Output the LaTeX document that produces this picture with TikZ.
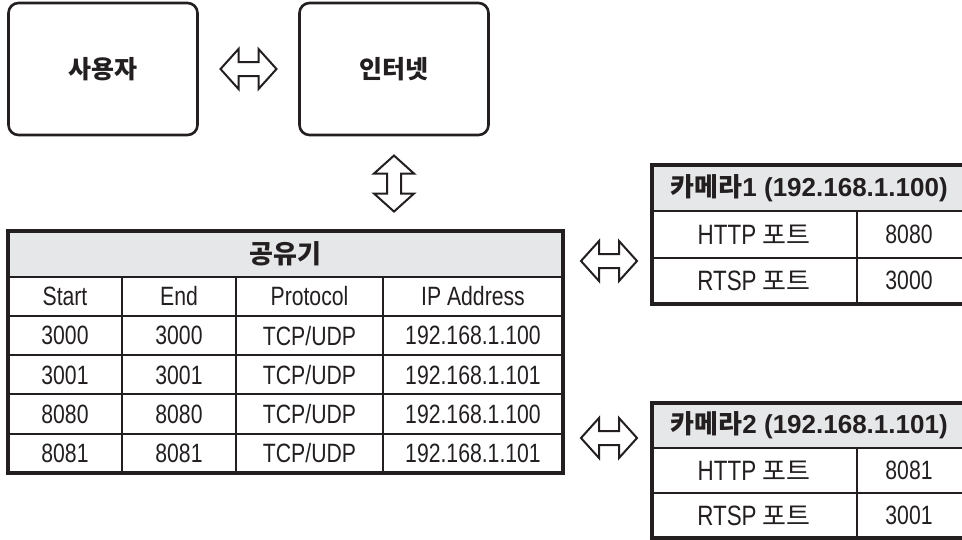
\documentclass[tikz,border=0pt]{standalone}
\usepackage{fontspec}
\usetikzlibrary{calc}
\setmainfont{Liberation Sans}
\newfontfamily\kr{Noto Sans CJK KR}
\newfontfamily\cond[FakeStretch=0.8]{Liberation Sans}
\definecolor{ink}{HTML}{231F20}
\definecolor{hdrgray}{HTML}{E6E7E8}
% hollow double arrow: centre, rotation
\newcommand{\hollowarrow}[2]{\draw[arrowline,shift={#1},rotate=#2] (-28,0)--(-10,-20)--(-10,-7)--(10,-7)--(10,-20)--(28,0)--(10,20)--(10,7)--(-10,7)--(-10,20)--cycle;}

\begin{document}
\begin{tikzpicture}[x=1pt,y=-1pt,
 box/.style={draw=ink,line width=2.6pt,rounded corners=10pt,minimum width=189pt,minimum height=132pt,font=\fontsize{25}{30}\selectfont\kr\bfseries,text=ink},
 arrowline/.style={draw=ink,line width=2pt,fill=white,line join=miter},
 frame/.style={draw=ink,line width=3.5pt},
 rule/.style={draw=ink,line width=2pt},
 cell/.style={inner sep=0pt,text=ink,font=\fontsize{26.5}{30}\selectfont\cond},
 hd/.style={inner sep=0pt,text=ink,fill=hdrgray,font=\fontsize{26}{30}\selectfont\bfseries}]
 \useasboundingbox (0,0) rectangle (962,539);
 % top row
 \node[box] (user) at (103,69) {사용자};
 \node[box] (net) at (394,69) {인터넷};
 \coordinate (un) at ($(user.east)!.5!(net.west)$);
 \hollowarrow{(un)}{0}
 % router table
 \node[hd,minimum width=555pt,minimum height=46pt] (router) at (285.5,254) {\kr 공유기};
 \coordinate (nr) at ($(net.south)!.5!(net.south|-router.north)$);
 \hollowarrow{(nr)}{90}
 \foreach \y in {277,316,355,394,434} \draw[rule] (8,\y) -- (563,\y);
 \foreach \x in {122,236,383} \draw[rule] (\x,277) -- (\x,473);
 \draw[frame] (8,231) rectangle (563,473);
 \node[cell] (start) at (65,296.5) {Start};
 \node[cell] (end) at (179,296.5) {End};
 \node[cell] (proto) at (309.5,296.5) {Protocol};
 \node[cell] (ipaddr) at (473,296.5) {IP Address};
 \foreach \p/\ip [count=\i] in {3000/100,3001/101,8080/100,8081/101} {
  \node[cell] (s\i) at (65,{296.5+\i*39.2}) {\p};
  \node[cell] (e\i) at (179,{296.5+\i*39.2}) {\p};
  \node[cell] (pr\i) at (309.5,{296.5+\i*39.2}) {TCP/UDP};
  \node[cell] (ip\i) at (473,{296.5+\i*39.2}) {192.168.1.\ip};
 }
 % camera tables
 \foreach \n/\t/\h/\ip/\http/\rtsp in {1/165/46.3/100/8080/3000,2/403/45/101/8081/3001} {
  \node[hd,minimum width=314pt,minimum height=\h pt,anchor=north west] (cam\n) at (652,\t) {{\kr 카메라}\n{} (192.168.1.\ip)};
  \draw[rule] (652,{\t+\h}) -- (966,{\t+\h});
  \draw[rule] (652,{\t+2*\h}) -- (966,{\t+2*\h});
  \draw[rule] (857,{\t+\h}) -- (857,{\t+3*\h});
  \draw[frame] (652,\t) rectangle (966,{\t+3*\h});
  \node[cell,font=\fontsize{28}{30}\selectfont\cond] (http\n) at (754,{\t+1.5*\h}) {HTTP {\kr\fontsize{26}{30}\selectfont 포트}};
  \node[cell] (hp\n) at (909,{\t+1.5*\h}) {\http};
  \node[cell,font=\fontsize{28}{30}\selectfont\cond] (rtsp\n) at (754,{\t+2.5*\h}) {RTSP {\kr\fontsize{26}{30}\selectfont 포트}};
  \node[cell] (rp\n) at (909,{\t+2.5*\h}) {\rtsp};
 }
 \coordinate (rc1) at (609,261);
 \coordinate (rc2) at (609,438);
 \hollowarrow{(rc1)}{0}
 \hollowarrow{(rc2)}{0}
\end{tikzpicture}
\end{document}
